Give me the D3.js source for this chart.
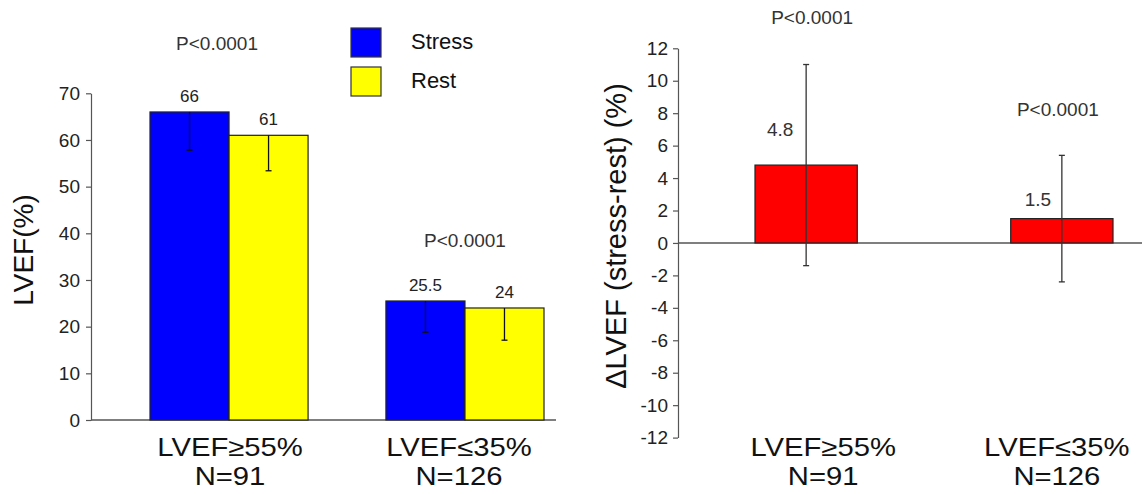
<!DOCTYPE html>
<html>
<head>
<meta charset="utf-8">
<script src="https://cdn.jsdelivr.net/npm/d3@7"></script>
<style>
  html, body { margin: 0; padding: 0; background: #fff; }
  svg { display: block; font-family: "Liberation Sans", Arial, sans-serif; }
  .tick text { font-size: 19px; fill: #222; }
  .domain, .tick line { stroke: #555; stroke-width: 1.2; }
</style>
</head>
<body>
<svg id="chart" width="1142" height="494"></svg>
<script>
// Données
const groups = ['LVEF≥55%', 'LVEF≤35%'];
const groupN = ['N=91', 'N=126'];
const series = ['Stress', 'Rest'];
const seriesColors = ['#0000ff', '#ffff00'];
const stressVals = [66, 25.5];
const restVals = [61, 24];
const stressLow = [57.8, 18.8];   // bas de la barre d'erreur
const restLow = [53.4, 17.1];
const deltaVals = [4.8, 1.5];
const deltaHigh = [11.0, 5.4];
const deltaLow = [-1.4, -2.4];
const pTexts = ['P<0.0001', 'P<0.0001'];
const leftTicks = [0, 10, 20, 30, 40, 50, 60, 70];
const rightTicks = [-12, -10, -8, -6, -4, -2, 0, 2, 4, 6, 8, 10, 12];

const svg = d3.select('#chart');
const fmt = v => String(v);   // trait d'union simple, pas le signe moins unicode

// étiquette de catégorie sur deux lignes, légèrement élargie comme l'original
function catLabel(g, lx, name, n) {
  const t = g.append('g').attr('transform', `translate(${lx},0) scale(1.17,1)`)
    .append('text').attr('text-anchor', 'middle').attr('font-size', 25).attr('fill', '#111');
  t.append('tspan').attr('x', 0).attr('y', 456).text(name);
  t.append('tspan').attr('x', 0).attr('y', 485).text(n);
}

// ---------- panneau gauche ----------
(function () {
  const y = d3.scaleLinear().domain([0, 70]).range([420, 93.3]);
  const x0 = d3.scaleBand().domain(groups).range([150, 544]).paddingInner(0.33).paddingOuter(0);
  const x1 = d3.scaleBand().domain(series).range([0, x0.bandwidth()]);
  const g = svg.append('g');

  g.append('g').attr('transform', 'translate(91,0)')
    .call(d3.axisLeft(y).tickValues(leftTicks).tickFormat(fmt).tickSize(5).tickPadding(6).tickSizeOuter(0));

  g.append('line').attr('x1', 91).attr('x2', 556).attr('y1', y(0)).attr('y2', y(0))
    .attr('stroke', '#555').attr('stroke-width', 1.4);

  const rows = groups.map((grp, i) => [
    { grp, s: 'Stress', v: stressVals[i], lo: stressLow[i], c: seriesColors[0] },
    { grp, s: 'Rest', v: restVals[i], lo: restLow[i], c: seriesColors[1] }
  ]).flat();

  g.selectAll('rect.bar').data(rows).enter().append('rect')
    .attr('x', d => x0(d.grp) + x1(d.s))
    .attr('width', x1.bandwidth())
    .attr('y', d => y(d.v))
    .attr('height', d => y(0) - y(d.v))
    .attr('fill', d => d.c).attr('stroke', '#222').attr('stroke-width', 1.2);

  const cx = d => x0(d.grp) + x1(d.s) + x1.bandwidth() / 2;
  g.selectAll('line.err').data(rows).enter().append('line')
    .attr('x1', cx).attr('x2', cx).attr('y1', d => y(d.v)).attr('y2', d => y(d.lo))
    .attr('stroke', '#111').attr('stroke-width', 1.3);
  g.selectAll('line.cap').data(rows).enter().append('line')
    .attr('x1', d => cx(d) - 3).attr('x2', d => cx(d) + 3).attr('y1', d => y(d.lo)).attr('y2', d => y(d.lo))
    .attr('stroke', '#111').attr('stroke-width', 1.3);

  g.selectAll('text.val').data(rows).enter().append('text')
    .attr('x', cx).attr('y', d => y(d.v) - 10)
    .attr('text-anchor', 'middle').attr('font-size', 17).attr('fill', '#222')
    .text(d => fmt(d.v));

  // P au-dessus de chaque groupe (position en unités de l'axe)
  const pY = [79.2, 37];
  const pDx = [-12, 0];
  groups.forEach((grp, i) => {
    g.append('text')
      .attr('x', x0(grp) + x0.bandwidth() / 2 + pDx[i]).attr('y', y(pY[i]))
      .attr('text-anchor', 'middle').attr('font-size', 19).attr('fill', '#333')
      .text(pTexts[i]);
  });

  const labDx = [1, -6];
  groups.forEach((grp, i) => catLabel(g, x0(grp) + x0.bandwidth() / 2 + labDx[i], grp, groupN[i]));

  g.append('text').attr('transform', 'translate(33,250) rotate(-90)')
    .attr('text-anchor', 'middle').attr('font-size', 28).attr('fill', '#111').text('LVEF(%)');

  // légende
  const leg = g.append('g').attr('transform', 'translate(351,28)');
  series.forEach((s, i) => {
    leg.append('rect').attr('x', 0).attr('y', i * 39).attr('width', 30).attr('height', 29)
      .attr('fill', seriesColors[i]).attr('stroke', '#333').attr('stroke-width', 1.2);
    leg.append('text').attr('x', 60).attr('y', i * 39 + 21).attr('font-size', 22).attr('fill', '#111').text(s);
  });
})();

// ---------- panneau droit ----------
(function () {
  const y = d3.scaleLinear().domain([-12, 12]).range([437.6, 48.3]);
  const x = d3.scaleBand().domain(groups).range([755, 1113]).paddingInner(0.6).paddingOuter(0);
  const g = svg.append('g');

  g.append('g').attr('transform', 'translate(678,0)')
    .call(d3.axisLeft(y).tickValues(rightTicks).tickFormat(fmt).tickSize(5).tickPadding(5).tickSizeOuter(0));

  g.append('line').attr('x1', 678).attr('x2', 1142).attr('y1', y(0)).attr('y2', y(0))
    .attr('stroke', '#555').attr('stroke-width', 1.4);

  const rows = groups.map((grp, i) => ({ grp, v: deltaVals[i], hi: deltaHigh[i], lo: deltaLow[i] }));
  const cx = d => x(d.grp) + x.bandwidth() / 2;

  g.selectAll('rect.bar').data(rows).enter().append('rect')
    .attr('x', d => x(d.grp)).attr('width', x.bandwidth())
    .attr('y', d => y(d.v)).attr('height', d => y(0) - y(d.v))
    .attr('fill', '#ff0000').attr('stroke', '#222').attr('stroke-width', 1.2);

  g.selectAll('line.err').data(rows).enter().append('line')
    .attr('x1', cx).attr('x2', cx).attr('y1', d => y(d.hi)).attr('y2', d => y(d.lo))
    .attr('stroke', '#333').attr('stroke-width', 1.3);
  ['hi', 'lo'].forEach(k => {
    g.selectAll('line.cap-' + k).data(rows).enter().append('line')
      .attr('x1', d => cx(d) - 3).attr('x2', d => cx(d) + 3)
      .attr('y1', d => y(d[k])).attr('y2', d => y(d[k]))
      .attr('stroke', '#333').attr('stroke-width', 1.3);
  });

  const valDx = [-26, -24];
  const valDy = [29, 13];
  g.selectAll('text.val').data(rows).enter().append('text')
    .attr('x', (d, i) => cx(d) + valDx[i]).attr('y', (d, i) => y(d.v) - valDy[i])
    .attr('text-anchor', 'middle').attr('font-size', 19).attr('fill', '#333')
    .text(d => fmt(d.v));

  const pY = [13.5, 7.8];
  const pDx = [6, -4];
  groups.forEach((grp, i) => {
    g.append('text')
      .attr('x', x(grp) + x.bandwidth() / 2 + pDx[i]).attr('y', y(pY[i]))
      .attr('text-anchor', 'middle').attr('font-size', 19).attr('fill', '#333')
      .text(pTexts[i]);
  });

  const labDx = [17, -5];
  groups.forEach((grp, i) => catLabel(g, x(grp) + x.bandwidth() / 2 + labDx[i], grp, groupN[i]));

  g.append('text').attr('transform', 'translate(626,236) rotate(-90)')
    .attr('text-anchor', 'middle').attr('font-size', 29).attr('fill', '#111')
    .text('ΔLVEF (stress-rest) (%)');
})();
</script>
</body>
</html>
